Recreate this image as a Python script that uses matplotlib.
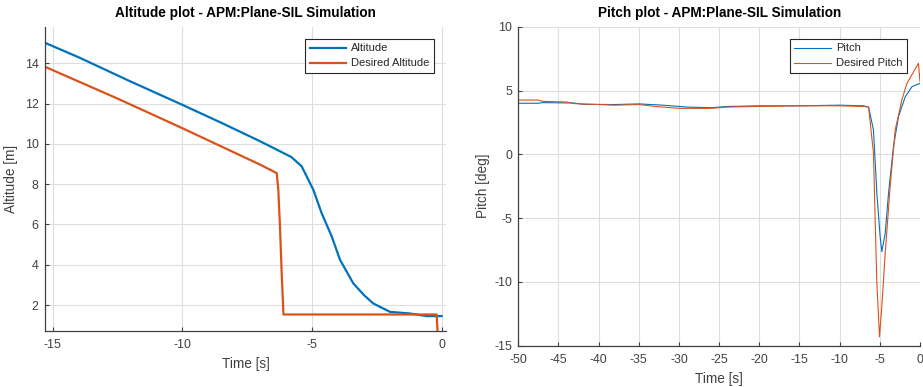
import matplotlib
matplotlib.use("Agg")
import matplotlib.pyplot as plt
import numpy as np

plt.rcParams['font.family'] = ['Liberation Sans', 'DejaVu Sans']
plt.rcParams['axes.unicode_minus'] = False

# ---- Altitude data ----
alt_t = [-15.3, -14.0, -12.0, -10.0, -8.5, -7.0, -6.23, -5.8, -5.4, -4.95, -4.63,
         -4.24, -3.92, -3.41, -3.0, -2.64, -1.99, -1.22, -0.58, 0.0]
alt_v = [15.02, 14.3, 13.1, 11.94, 11.05, 10.13, 9.63, 9.35, 8.89, 7.73, 6.57,
         5.41, 4.25, 3.08, 2.5, 2.08, 1.66, 1.58, 1.45, 1.45]
des_alt_t = [-15.3, -12.5, -10.0, -7.0, -6.36, -6.3, -6.23, -6.17, -6.1, -0.19, -0.15]
des_alt_v = [13.83, 12.25, 10.78, 8.97, 8.55, 7.73, 5.75, 3.6, 1.53, 1.53, 0.5]

# ---- Pitch data ----
pitch_t = [-50, -47.5, -47, -43, -42, -38, -35, -32, -29, -26, -24, -20, -15, -10,
           -7, -6.4, -5.79, -5.37, -4.96, -4.75, -4.33, -3.92, -3.3, -2.68, -1.84,
           -1.0, 0.0]
pitch_v = [4.0, 4.0, 4.05, 4.02, 3.92, 3.9, 3.95, 3.85, 3.7, 3.65, 3.75, 3.8, 3.8,
           3.85, 3.8, 3.7, 1.9, -3.06, -6.46, -7.63, -6.2, -3.06, 0.6, 2.95, 4.5,
           5.3, 5.56]
des_pitch_t = [-50, -47.5, -47, -44, -43, -38, -35, -33, -30, -26, -24, -20, -15,
               -10, -7, -6.4, -5.79, -5.58, -5.37, -5.04, -4.75, -4.33, -3.71,
               -3.09, -2.26, -1.63, -0.19, 0.0]
des_pitch_v = [4.25, 4.25, 4.15, 4.1, 3.97, 3.85, 3.9, 3.75, 3.6, 3.6, 3.7, 3.75,
               3.8, 3.8, 3.75, 3.7, 0.08, -5.15, -10.1, -14.3, -11.9, -7.76, -2.5,
               1.9, 4.25, 5.56, 7.13, 5.7]

alt_xticks = [-15, -10, -5, 0]
alt_yticks = [2, 4, 6, 8, 10, 12, 14]
pitch_xticks = list(range(-50, 1, 5))
pitch_yticks = [-15, -10, -5, 0, 5, 10]

BLUE = '#0072BD'
ORANGE = '#D95319'
AXC = '#404040'
TXT = '#404040'

W, H = 923, 387
fig = plt.figure(figsize=(W / 100, H / 100), dpi=100)

def style(ax):
    for s in ['top', 'right']:
        ax.spines[s].set_visible(False)
    for s in ['left', 'bottom']:
        ax.spines[s].set_color(AXC)
        ax.spines[s].set_linewidth(0.9)
    ax.tick_params(direction='in', length=3, width=0.8, colors=AXC,
                   labelcolor=TXT, labelsize=8.9, pad=4.5)
    ax.tick_params(axis='x', pad=6)
    ax.grid(True, color='#dedede', linewidth=0.8)
    ax.set_axisbelow(True)

def legend(ax, x_right_px):
    leg = ax.legend(loc='upper right', fontsize=8, fancybox=False, framealpha=1,
                    edgecolor='#262626', handlelength=3.3, handletextpad=0.45,
                    borderpad=0.4, labelspacing=0.45, borderaxespad=0.0,
                    bbox_to_anchor=(x_right_px / W, 1 - 39 / H),
                    bbox_transform=fig.transFigure)
    leg.get_frame().set_linewidth(0.8)
    for t in leg.get_texts():
        t.set_color('#262626')
    return leg

ax1 = fig.add_axes([45 / W, 1 - 331 / H, (446 - 45) / W, (331 - 26.7) / H])
style(ax1)
ax1.plot(alt_t, alt_v, color=BLUE, lw=1.6, label='Altitude')
ax1.plot(des_alt_t, des_alt_v, color=ORANGE, lw=1.6, label='Desired Altitude')
ax1.set_xlim(-15.3, 0.17)
ax1.set_ylim(0.71, 15.82)
ax1.set_xticks(alt_xticks)
ax1.set_xticklabels([str(v) for v in alt_xticks])
ax1.set_yticks(alt_yticks)
ax1.set_xlabel('Time [s]', fontsize=9.8, color=TXT, labelpad=4)
ax1.set_ylabel('Altitude [m]', fontsize=9.8, color=TXT, labelpad=5)
ax1.set_title('Altitude plot - APM:Plane-SIL Simulation', fontsize=9.8,
              fontweight='bold', color='black', pad=7)
legend(ax1, 434)

ax2 = fig.add_axes([518.3 / W, 1 - 345.7 / H, (920 - 518.3) / W, (345.7 - 26.7) / H])
style(ax2)
ax2.plot(pitch_t, pitch_v, color=BLUE, lw=0.8, label='Pitch')
ax2.plot(des_pitch_t, des_pitch_v, color=ORANGE, lw=0.8, label='Desired Pitch')
ax2.set_xlim(-50, 0)
ax2.set_ylim(-15, 10)
ax2.set_xticks(pitch_xticks)
ax2.set_xticklabels([str(v) for v in pitch_xticks])
ax2.set_yticks(pitch_yticks)
ax2.set_xlabel('Time [s]', fontsize=9.8, color=TXT, labelpad=4)
ax2.set_ylabel('Pitch [deg]', fontsize=9.8, color=TXT, labelpad=3)
ax2.set_title('Pitch plot - APM:Plane-SIL Simulation', fontsize=9.8,
              fontweight='bold', color='black', pad=7)
legend(ax2, 906.7)

fig.savefig('out.png', dpi=100, facecolor='white')
